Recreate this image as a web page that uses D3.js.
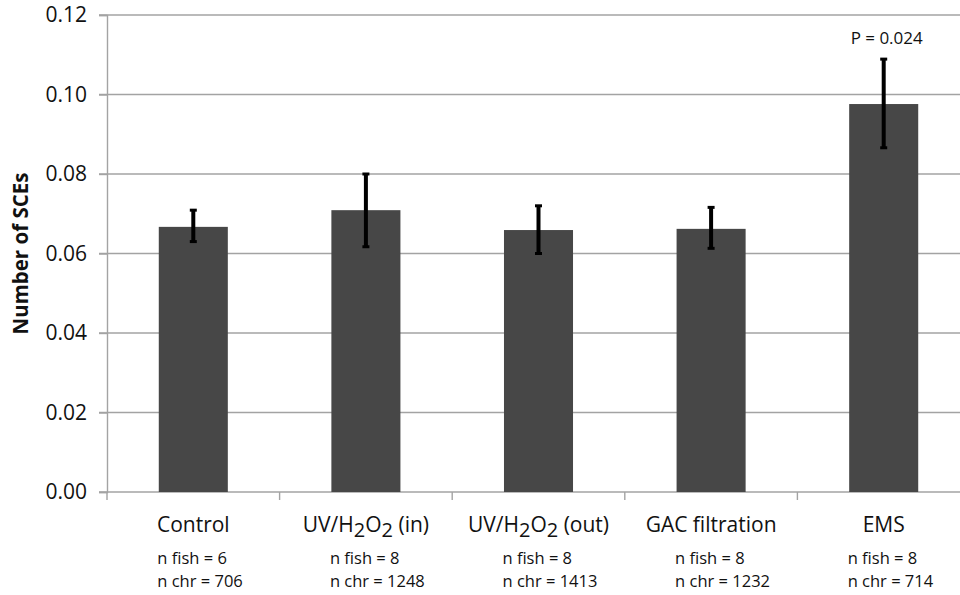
<!DOCTYPE html>
<html>
<head>
<meta charset="utf-8">
<script src="https://cdn.jsdelivr.net/npm/d3@7"></script>
<style>
  body { margin: 0; background: #fff; }
  svg { display: block; font-family: 'Open Sans', sans-serif; }
</style>
</head>
<body>
<div id="chart"></div>
<script>
// chart values
const categories = ['Control', 'UV/H2O2 (in)', 'UV/H2O2 (out)', 'GAC filtration', 'EMS'];
const means = [0.0667, 0.0709, 0.0659, 0.0662, 0.0976];
const errLow = [0.0630, 0.0617, 0.0600, 0.0613, 0.0866];
const errHigh = [0.0709, 0.0800, 0.0720, 0.0716, 0.1089];
const nFish = [6, 8, 8, 8, 8];
const nChr = [706, 1248, 1413, 1232, 714];
const yTicks = [0, 0.02, 0.04, 0.06, 0.08, 0.10, 0.12];
const pLabel = { category: 'EMS', text: 'P = 0.024' };

const width = 960;
const height = 595;
const margin = { top: 15, right: -10, bottom: 103, left: 107 };

const svg = d3
  .select('#chart')
  .append('svg')
  .attr('width', width)
  .attr('height', height);

const x = d3
  .scaleBand()
  .domain(categories)
  .range([margin.left, width - margin.right])
  .paddingInner(0.6)
  .paddingOuter(0.3);

const y = d3
  .scaleLinear()
  .domain([0, 0.12])
  .range([height - margin.bottom, margin.top]);

const grey = '#a3a3a3';

// horizontal gridlines (they run past the axis as tick marks)
svg
  .append('g')
  .selectAll('line')
  .data(yTicks)
  .enter()
  .append('line')
  .attr('x1', margin.left - 8)
  .attr('x2', width)
  .attr('y1', (d) => y(d))
  .attr('y2', (d) => y(d))
  .attr('stroke', grey)
  .attr('stroke-width', 1.4);

// y axis
const yAxis = (g) =>
  g
    .attr('transform', `translate(${margin.left}, 0)`)
    .call(d3.axisLeft(y).tickValues(yTicks).tickFormat(d3.format('.2f')).tickSize(8).tickPadding(12))
    .call((g) => g.selectAll('.domain, .tick line').attr('stroke', grey).attr('stroke-width', 1.4))
    .call((g) => g.selectAll('.tick text').attr('font-size', '21px').attr('fill', '#111').attr('font-family', 'Open Sans'));

svg.append('g').call(yAxis);

// category separators below the baseline
const step = x.step();
const bounds = d3.range(categories.length + 1).map((i) => x(categories[0]) - (step - x.bandwidth()) / 2 + i * step);
svg
  .append('g')
  .selectAll('line')
  .data(bounds)
  .enter()
  .append('line')
  .attr('x1', (d) => d)
  .attr('x2', (d) => d)
  .attr('y1', y(0))
  .attr('y2', y(0) + 8)
  .attr('stroke', grey)
  .attr('stroke-width', 1.4);

// bars
svg
  .append('g')
  .selectAll('rect')
  .data(categories)
  .enter()
  .append('rect')
  .attr('x', (d) => x(d))
  .attr('y', (d, i) => y(means[i]))
  .attr('width', x.bandwidth())
  .attr('height', (d, i) => y(0) - y(means[i]))
  .attr('fill', '#474747');

// error bars
const err = svg.append('g').attr('stroke', '#000');
const cx = (d) => x(d) + x.bandwidth() / 2;
err
  .selectAll('line.v')
  .data(categories)
  .enter()
  .append('line')
  .attr('class', 'v')
  .attr('x1', cx)
  .attr('x2', cx)
  .attr('y1', (d, i) => y(errLow[i]))
  .attr('y2', (d, i) => y(errHigh[i]))
  .attr('stroke-width', 4);
[errLow, errHigh].forEach((vals) => {
  err
    .append('g')
    .selectAll('line')
    .data(categories)
    .enter()
    .append('line')
    .attr('x1', (d) => cx(d) - 3.5)
    .attr('x2', (d) => cx(d) + 3.5)
    .attr('y1', (d, i) => y(vals[i]))
    .attr('y2', (d, i) => y(vals[i]))
    .attr('stroke-width', 3);
});

// category labels, with subscripts for H2O2
const labels = svg
  .append('g')
  .selectAll('text')
  .data(categories)
  .enter()
  .append('text')
  .attr('x', cx)
  .attr('y', 532)
  .attr('text-anchor', 'middle')
  .attr('font-size', '21px')
  .attr('fill', '#111');

labels.each(function (d) {
  const t = d3.select(this);
  let shift = 0;
  d.split(/(2)/).forEach((part) => {
    if (!part) return;
    const sub = part === '2';
    const target = sub ? 5 : 0;
    t.append('tspan')
      .attr('dy', target - shift)
      .attr('font-size', sub ? '20px' : null)
      .text(part);
    shift = target;
  });
});

// sample sizes
const nText = svg
  .append('g')
  .selectAll('text')
  .data(categories)
  .enter()
  .append('text')
  .attr('font-size', '16.5px')
  .attr('fill', '#111');
nText
  .append('tspan')
  .attr('x', (d) => cx(d) - 36)
  .attr('y', 564)
  .text((d, i) => `n fish = ${nFish[i]}`);
nText
  .append('tspan')
  .attr('x', (d) => cx(d) - 36)
  .attr('y', 587)
  .text((d, i) => `n chr = ${nChr[i]}`);

// significance label
svg
  .append('text')
  .attr('x', cx(pLabel.category) + 3)
  .attr('y', 44)
  .attr('text-anchor', 'middle')
  .attr('font-size', '17px')
  .attr('fill', '#111')
  .text(pLabel.text);

// y axis title
svg
  .append('text')
  .attr('transform', `translate(28, ${(y(0) + y(0.12)) / 2}) rotate(-90)`)
  .attr('text-anchor', 'middle')
  .attr('font-size', '20.5px')
  .attr('font-weight', 'bold')
  .attr('fill', '#111')
  .text('Number of SCEs');
</script>
</body>
</html>
